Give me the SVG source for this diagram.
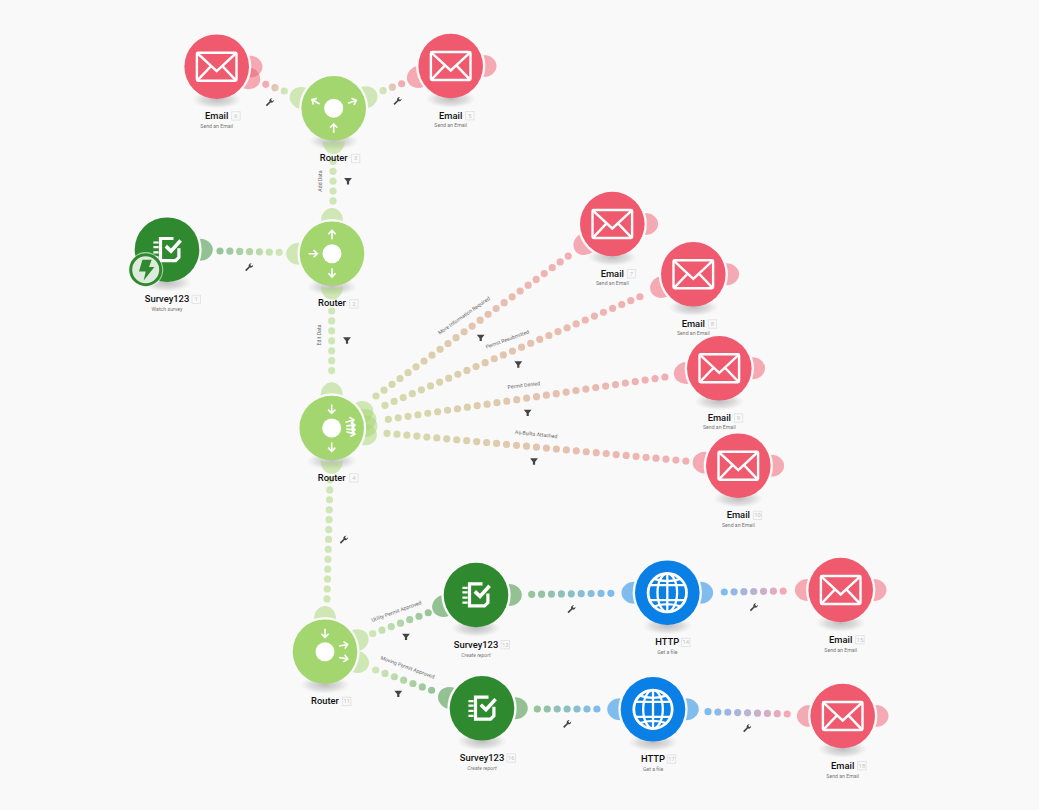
<svg xmlns="http://www.w3.org/2000/svg" xmlns:xlink="http://www.w3.org/1999/xlink" width="1039" height="810" viewBox="0 0 1039 810">
<style>
text{font-family:Roboto,"Open Sans","Liberation Sans",sans-serif;text-anchor:middle}
.n{font-size:9.4px;font-weight:500;fill:#111}
.s{font-size:5.2px;fill:#777}
.c{font-size:5.2px;fill:#666}
.i{font-size:5.8px;fill:#c4c4c4}
.b{fill:none;stroke:#e2e2e2;stroke-width:.9}
.d{fill:none;stroke-width:7.2;stroke-linecap:round;stroke-dasharray:0 1}
.r .m,.r .p{fill:#a4d66f}.e .m,.e .p{fill:#ef5a6e}.v .m,.v .p{fill:#2f8a2f}.h .m,.h .p{fill:#0a7fe6}
.p{opacity:.5}
.w{fill:none;stroke:#fff;stroke-linecap:butt;stroke-linejoin:miter}
.t{fill:#444}
</style>
<defs>
<radialGradient id="sh"><stop offset="0" stop-color="#aaa" stop-opacity=".75"/><stop offset=".6" stop-color="#bbb" stop-opacity=".45"/><stop offset="1" stop-color="#ccc" stop-opacity="0"/></radialGradient>
<path id="port" d="M32.8-11A13 11 0 0 1 32.8 11A34.6 34.6 0 0 0 32.8-11Z"/>
<ellipse id="shadow" cx="0" cy="33" rx="25" ry="9" fill="url(#sh)"/>
<path id="ar" class="w" stroke-width="1.6" d="M0 4.5V-4M-3.6-.6L0-4.3L3.6-.6"/>
<g id="env" class="w" stroke-width="2.4"><rect x="-19.8" y="-14" width="39.6" height="28" rx="1.2"/><path d="M-19-13.2L0 4.5L19-13.2M-19 13.4L-5.5-.8M19 13.4L5.5-.8"/></g>
<g id="sur"><path class="w" stroke-width="3.2" d="M6.5-11.2H-6.5V10.9H8.6L11.9 7.6V-1.5"/><path class="w" stroke-width="3.6" d="M-1.2-3.6L4 1.4L13.6-9.2"/><path class="w" stroke-width="2.2" stroke-linecap="round" d="M-13.6-7.2H-8.4M-13.6-2.6H-8.4M-13.6 2.6H-8.4M-13.6 7.6H-8.4"/></g>
<g id="glb" class="w" stroke-width="2.3"><circle r="19.2" stroke-width="2.8"/><ellipse rx="9.8" ry="19.2"/><path d="M0-19.5V19.5M-18-7.5H18M-18 7.5H18M-14-14Q0-9 14-14M-14 14Q0 9 14 14"/></g>
<path id="fil" class="t" d="M-3.9-3H3.9L1.1.6V3.4H-1.1V.6Z"/>
<path id="wr" class="t" d="M-4.2 3.1L-.6-.5C-1-2.2.3-3.9 2.4-3.7L.9-2.2L2.3-.8L3.9-2.3C4-.3 2.3 1 .6.6L-3 4.3Z"/>
<linearGradient id="g1" gradientUnits="userSpaceOnUse" x1="284.3" y1="91" x2="265.7" y2="84.3"><stop offset="0" stop-color="#cfe6b5"/><stop offset="1" stop-color="#f4a9b3"/></linearGradient>
<linearGradient id="g2" gradientUnits="userSpaceOnUse" x1="383" y1="90.7" x2="401.7" y2="83.7"><stop offset="0" stop-color="#cfe6b5"/><stop offset="1" stop-color="#f4a9b3"/></linearGradient>
<linearGradient id="g3" gradientUnits="userSpaceOnUse" x1="220" y1="251" x2="279.3" y2="252.3"><stop offset="0" stop-color="#97c499"/><stop offset="1" stop-color="#cfe6b5"/></linearGradient>
<linearGradient id="g4" gradientUnits="userSpaceOnUse" x1="376" y1="396" x2="568.3" y2="256"><stop offset="0" stop-color="#d3dcab"/><stop offset="1" stop-color="#f2aeb2"/></linearGradient>
<linearGradient id="g5" gradientUnits="userSpaceOnUse" x1="385" y1="405.3" x2="640" y2="296.7"><stop offset="0" stop-color="#d3dcab"/><stop offset="1" stop-color="#f2aeb2"/></linearGradient>
<linearGradient id="g6" gradientUnits="userSpaceOnUse" x1="388.3" y1="419.3" x2="665" y2="377"><stop offset="0" stop-color="#d3dcab"/><stop offset="1" stop-color="#f2aeb2"/></linearGradient>
<linearGradient id="g7" gradientUnits="userSpaceOnUse" x1="387" y1="433.3" x2="686" y2="461"><stop offset="0" stop-color="#d3dcab"/><stop offset="1" stop-color="#f2aeb2"/></linearGradient>
<linearGradient id="g8" gradientUnits="userSpaceOnUse" x1="372.7" y1="633.7" x2="428.3" y2="612.7"><stop offset="0" stop-color="#cfe6b5"/><stop offset="1" stop-color="#97c499"/></linearGradient>
<linearGradient id="g9" gradientUnits="userSpaceOnUse" x1="375.7" y1="670" x2="431.7" y2="690.3"><stop offset="0" stop-color="#cfe6b5"/><stop offset="1" stop-color="#97c499"/></linearGradient>
<linearGradient id="g10" gradientUnits="userSpaceOnUse" x1="531.7" y1="594.3" x2="611" y2="593.3"><stop offset="0" stop-color="#97c499"/><stop offset="1" stop-color="#7ebcf0"/></linearGradient>
<linearGradient id="g11" gradientUnits="userSpaceOnUse" x1="537.3" y1="709" x2="597" y2="709"><stop offset="0" stop-color="#97c499"/><stop offset="1" stop-color="#7ebcf0"/></linearGradient>
<linearGradient id="g12" gradientUnits="userSpaceOnUse" x1="724.3" y1="592" x2="783.3" y2="591"><stop offset="0" stop-color="#7ebcf0"/><stop offset="1" stop-color="#f4a9b3"/></linearGradient>
<linearGradient id="g13" gradientUnits="userSpaceOnUse" x1="708" y1="711.7" x2="787.3" y2="714"><stop offset="0" stop-color="#7ebcf0"/><stop offset="1" stop-color="#f4a9b3"/></linearGradient>
</defs>
<rect width="1039" height="810" fill="#f9f9f9"/>
<g id="connectors">
<line class="d" x1="284.3" y1="91" x2="265.7" y2="84.3" pathLength="2.01" stroke="url(#g1)"/>
<line class="d" x1="383" y1="90.7" x2="401.7" y2="83.7" pathLength="2.01" stroke="url(#g2)"/>
<line class="d" x1="333" y1="161.5" x2="333" y2="201" pathLength="4.01" stroke="#cfe6b5"/>
<line class="d" x1="220" y1="251" x2="279.3" y2="252.3" pathLength="6.01" stroke="url(#g3)"/>
<line class="d" x1="331.7" y1="311" x2="331.7" y2="370.7" pathLength="6.01" stroke="#cfe6b5"/>
<line class="d" x1="330" y1="480" x2="327" y2="599" pathLength="12.01" stroke="#cfe6b5"/>
<line class="d" x1="376" y1="396" x2="568.3" y2="256" pathLength="24.01" stroke="url(#g4)"/>
<line class="d" x1="385" y1="405.3" x2="640" y2="296.7" pathLength="28.01" stroke="url(#g5)"/>
<line class="d" x1="388.3" y1="419.3" x2="665" y2="377" pathLength="28.01" stroke="url(#g6)"/>
<line class="d" x1="387" y1="433.3" x2="686" y2="461" pathLength="30.01" stroke="url(#g7)"/>
<line class="d" x1="372.7" y1="633.7" x2="428.3" y2="612.7" pathLength="6.01" stroke="url(#g8)"/>
<line class="d" x1="375.7" y1="670" x2="431.7" y2="690.3" pathLength="6.01" stroke="url(#g9)"/>
<line class="d" x1="531.7" y1="594.3" x2="611" y2="593.3" pathLength="8.01" stroke="url(#g10)"/>
<line class="d" x1="537.3" y1="709" x2="597" y2="709" pathLength="6.01" stroke="url(#g11)"/>
<line class="d" x1="724.3" y1="592" x2="783.3" y2="591" pathLength="6.01" stroke="url(#g12)"/>
<line class="d" x1="708" y1="711.7" x2="787.3" y2="714" pathLength="8.01" stroke="url(#g13)"/>
<use href="#wr" x="270" y="102"/><use href="#wr" x="397.7" y="100.7"/><use href="#wr" x="249.3" y="267"/><use href="#wr" x="344" y="539.5"/><use href="#wr" x="571.7" y="609"/><use href="#wr" x="754" y="607"/><use href="#wr" x="567.3" y="723.7"/><use href="#wr" x="747.3" y="728"/>
<use href="#fil" x="348" y="181"/><use href="#fil" x="347" y="340.3"/><use href="#fil" x="480.7" y="337.7"/><use href="#fil" x="518.3" y="364.3"/><use href="#fil" x="527.7" y="412.7"/><use href="#fil" x="534" y="461.3"/><use href="#fil" x="406" y="636.7"/><use href="#fil" x="398.3" y="693.7"/>
<text class="c" transform="translate(322,181) rotate(-90)">Add Data</text>
<text class="c" transform="translate(321,335) rotate(-90)">Edit Data</text>
<text class="c" transform="translate(465,317) rotate(-35)">More Information Required</text>
<text class="c" transform="translate(508,341) rotate(-20)">Permit Resubmitted</text>
<text class="c" transform="translate(524,387) rotate(-7)">Permit Denied</text>
<text class="c" transform="translate(536,436) rotate(6)">As-Builts Attached</text>
<text class="c" transform="translate(397,613) rotate(-20)">Utility Permit Approved</text>
<text class="c" transform="translate(407,669) rotate(20)">Moving Permit Approved</text>
</g>
<g id="node6" class="e" transform="translate(216.7,66.7)"><use href="#shadow"/><use class="p" href="#port"/><use class="p" href="#port" transform="rotate(20)"/><circle class="m" r="32.3"/><use href="#env"/><text class="n" y="52">Email</text><rect class="b" x="15" y="45" width="8.4" height="8.4"/><text class="i" x="19.2" y="51.2">6</text><text class="s" y="61.5">Send an Email</text></g>
<g id="node5" class="e" transform="translate(450.7,66)"><use href="#shadow"/><use class="p" href="#port"/><use class="p" href="#port" transform="rotate(161)"/><circle class="m" r="32.3"/><use href="#env"/><text class="n" y="52.5">Email</text><rect class="b" x="15" y="45.5" width="8.4" height="8.4"/><text class="i" x="19.2" y="51.7">5</text><text class="s" y="61">Send an Email</text></g>
<g id="node3" class="r" transform="translate(333.7,108.3)"><use href="#shadow"/><use class="p" href="#port" transform="rotate(198)"/><use class="p" href="#port" transform="rotate(-19)"/><use class="p" href="#port" transform="rotate(90)"/><circle class="m" r="32.3"/><circle r="9.5" fill="#fff"/><use href="#ar" transform="translate(-18,-6.5) rotate(-60)"/><use href="#ar" transform="translate(18.5,-6.5) rotate(70)"/><use href="#ar" transform="translate(0,20)"/><text class="n" y="52.5">Router</text><rect class="b" x="17.7" y="46" width="8.4" height="8.4"/><text class="i" x="21.9" y="52.2">3</text></g>
<g id="node2" class="r" transform="translate(332,253.7)"><use href="#shadow"/><use class="p" href="#port" transform="rotate(180)"/><use class="p" href="#port" transform="rotate(-90)"/><use class="p" href="#port" transform="rotate(90)"/><circle class="m" r="32.3"/><circle r="9.5" fill="#fff"/><use href="#ar" transform="translate(0,-19)"/><use href="#ar" transform="translate(-19,0) rotate(90)"/><use href="#ar" transform="translate(0,19) rotate(180)"/><text class="n" y="52.5">Router</text><rect class="b" x="17.7" y="46" width="8.4" height="8.4"/><text class="i" x="21.9" y="52.2">2</text></g>
<g id="node1" class="v" transform="translate(167,249.7)"><use href="#shadow"/><use class="p" href="#port"/><circle class="m" r="32.3"/><use href="#sur"/><g transform="translate(-21.3,20)"><circle r="17.6" fill="#f9f9f9" opacity=".6"/><circle r="15" fill="#dcebdc" stroke="#2f8a2f" stroke-width="3"/><path fill="#2f8a2f" d="M-3.3-10H6L3.3-2.7H8.7L-2 10.7L0 1.7H-6.7Z"/></g><text class="n" y="52.5">Survey123</text><rect class="b" x="25" y="45.5" width="8.4" height="8.4"/><text class="i" x="29.2" y="51.7">1</text><text class="s" y="61.5">Watch survey</text></g>
<g id="node4" class="r" transform="translate(331.7,428)"><use href="#shadow"/><use class="p" href="#port" transform="rotate(-90)"/><use class="p" href="#port" transform="rotate(90)"/><use class="p" href="#port" transform="rotate(-28)"/><use class="p" href="#port" transform="rotate(-14)"/><use class="p" href="#port" transform="rotate(-3)"/><use class="p" href="#port" transform="rotate(11)"/><circle class="m" r="32.3"/><circle r="9.5" fill="#fff"/><use href="#ar" transform="translate(0,-19) rotate(180)"/><use href="#ar" transform="translate(0,19) rotate(180)"/><use href="#ar" transform="translate(18,-7) rotate(75)"/><use href="#ar" transform="translate(19,-2.5) rotate(85)"/><use href="#ar" transform="translate(19,1.5) rotate(95)"/><use href="#ar" transform="translate(19,5) rotate(105)"/><text class="n" y="52.5">Router</text><rect class="b" x="18" y="45.7" width="8.4" height="8.4"/><text class="i" x="22.2" y="51.9">4</text></g>
<g id="node7" class="e" transform="translate(612.3,224)"><use href="#shadow"/><use class="p" href="#port"/><use class="p" href="#port" transform="rotate(144)"/><circle class="m" r="32.3"/><use href="#env"/><text class="n" y="52.5">Email</text><rect class="b" x="15" y="45.5" width="8.4" height="8.4"/><text class="i" x="19.2" y="51.7">7</text><text class="s" y="61">Send an Email</text></g>
<g id="node8" class="e" transform="translate(693.3,274.3)"><use href="#shadow"/><use class="p" href="#port"/><use class="p" href="#port" transform="rotate(158)"/><circle class="m" r="32.3"/><use href="#env"/><text class="n" y="52.5">Email</text><rect class="b" x="15" y="45.5" width="8.4" height="8.4"/><text class="i" x="19.2" y="51.7">8</text><text class="s" y="61">Send an Email</text></g>
<g id="node9" class="e" transform="translate(719.3,368.3)"><use href="#shadow"/><use class="p" href="#port"/><use class="p" href="#port" transform="rotate(172)"/><circle class="m" r="32.3"/><use href="#env"/><text class="n" y="52.5">Email</text><rect class="b" x="15" y="45.5" width="8.4" height="8.4"/><text class="i" x="19.2" y="51.7">9</text><text class="s" y="61">Send an Email</text></g>
<g id="node10" class="e" transform="translate(738.3,465.7)"><use href="#shadow"/><use class="p" href="#port"/><use class="p" href="#port" transform="rotate(185)"/><circle class="m" r="32.3"/><use href="#env"/><text class="n" y="52.5">Email</text><rect class="b" x="15" y="45.5" width="8.4" height="8.4"/><text class="i" x="19.2" y="51.7">10</text><text class="s" y="61">Send an Email</text></g>
<g id="node11" class="r" transform="translate(325,651.7)"><use href="#shadow"/><use class="p" href="#port" transform="rotate(-90)"/><use class="p" href="#port" transform="rotate(-20)"/><use class="p" href="#port" transform="rotate(18)"/><circle class="m" r="32.3"/><circle r="9.5" fill="#fff"/><use href="#ar" transform="translate(0,-18.5) rotate(180)"/><use href="#ar" transform="translate(18.5,-6.5) rotate(80)"/><use href="#ar" transform="translate(18.5,6.5) rotate(100)"/><text class="n" y="52">Router</text><rect class="b" x="17.5" y="45.5" width="8.4" height="8.4"/><text class="i" x="21.7" y="51.7">11</text></g>
<g id="node13" class="v" transform="translate(476,595)"><use href="#shadow"/><use class="p" href="#port"/><use class="p" href="#port" transform="rotate(161)"/><circle class="m" r="32.3"/><use href="#sur"/><text class="n" y="52.5">Survey123</text><rect class="b" x="25" y="45.5" width="8.4" height="8.4"/><text class="i" x="29.2" y="51.7">13</text><text class="s" y="62" font-style="italic">Create report</text></g>
<g id="node16" class="v" transform="translate(482,708.3)"><use href="#shadow"/><use class="p" href="#port"/><use class="p" href="#port" transform="rotate(198)"/><circle class="m" r="32.3"/><use href="#sur"/><text class="n" y="52.5">Survey123</text><rect class="b" x="25" y="45.5" width="8.4" height="8.4"/><text class="i" x="29.2" y="51.7">16</text><text class="s" y="62" font-style="italic">Create report</text></g>
<g id="node14" class="h" transform="translate(667.3,592.7)"><use href="#shadow"/><use class="p" href="#port"/><use class="p" href="#port" transform="rotate(180)"/><circle class="m" r="32.3"/><use href="#glb"/><text class="n" y="52.5">HTTP</text><rect class="b" x="14.3" y="45.5" width="8.4" height="8.4"/><text class="i" x="18.5" y="51.7">14</text><text class="s" y="61.5">Get a file</text></g>
<g id="node17" class="h" transform="translate(653,709.3)"><use href="#shadow"/><use class="p" href="#port"/><use class="p" href="#port" transform="rotate(180)"/><circle class="m" r="32.3"/><use href="#glb"/><text class="n" y="52.5">HTTP</text><rect class="b" x="14.3" y="45.5" width="8.4" height="8.4"/><text class="i" x="18.5" y="51.7">17</text><text class="s" y="61.5">Get a file</text></g>
<g id="node15" class="e" transform="translate(840.7,590)"><use href="#shadow"/><use class="p" href="#port"/><use class="p" href="#port" transform="rotate(180)"/><circle class="m" r="32.3"/><use href="#env"/><text class="n" y="52.5">Email</text><rect class="b" x="15" y="45.5" width="8.4" height="8.4"/><text class="i" x="19.2" y="51.7">15</text><text class="s" y="62">Send an Email</text></g>
<g id="node18" class="e" transform="translate(842.7,716)"><use href="#shadow"/><use class="p" href="#port"/><use class="p" href="#port" transform="rotate(180)"/><circle class="m" r="32.3"/><use href="#env"/><text class="n" y="52.5">Email</text><rect class="b" x="15" y="45.5" width="8.4" height="8.4"/><text class="i" x="19.2" y="51.7">18</text><text class="s" y="62">Send an Email</text></g>
</svg>
